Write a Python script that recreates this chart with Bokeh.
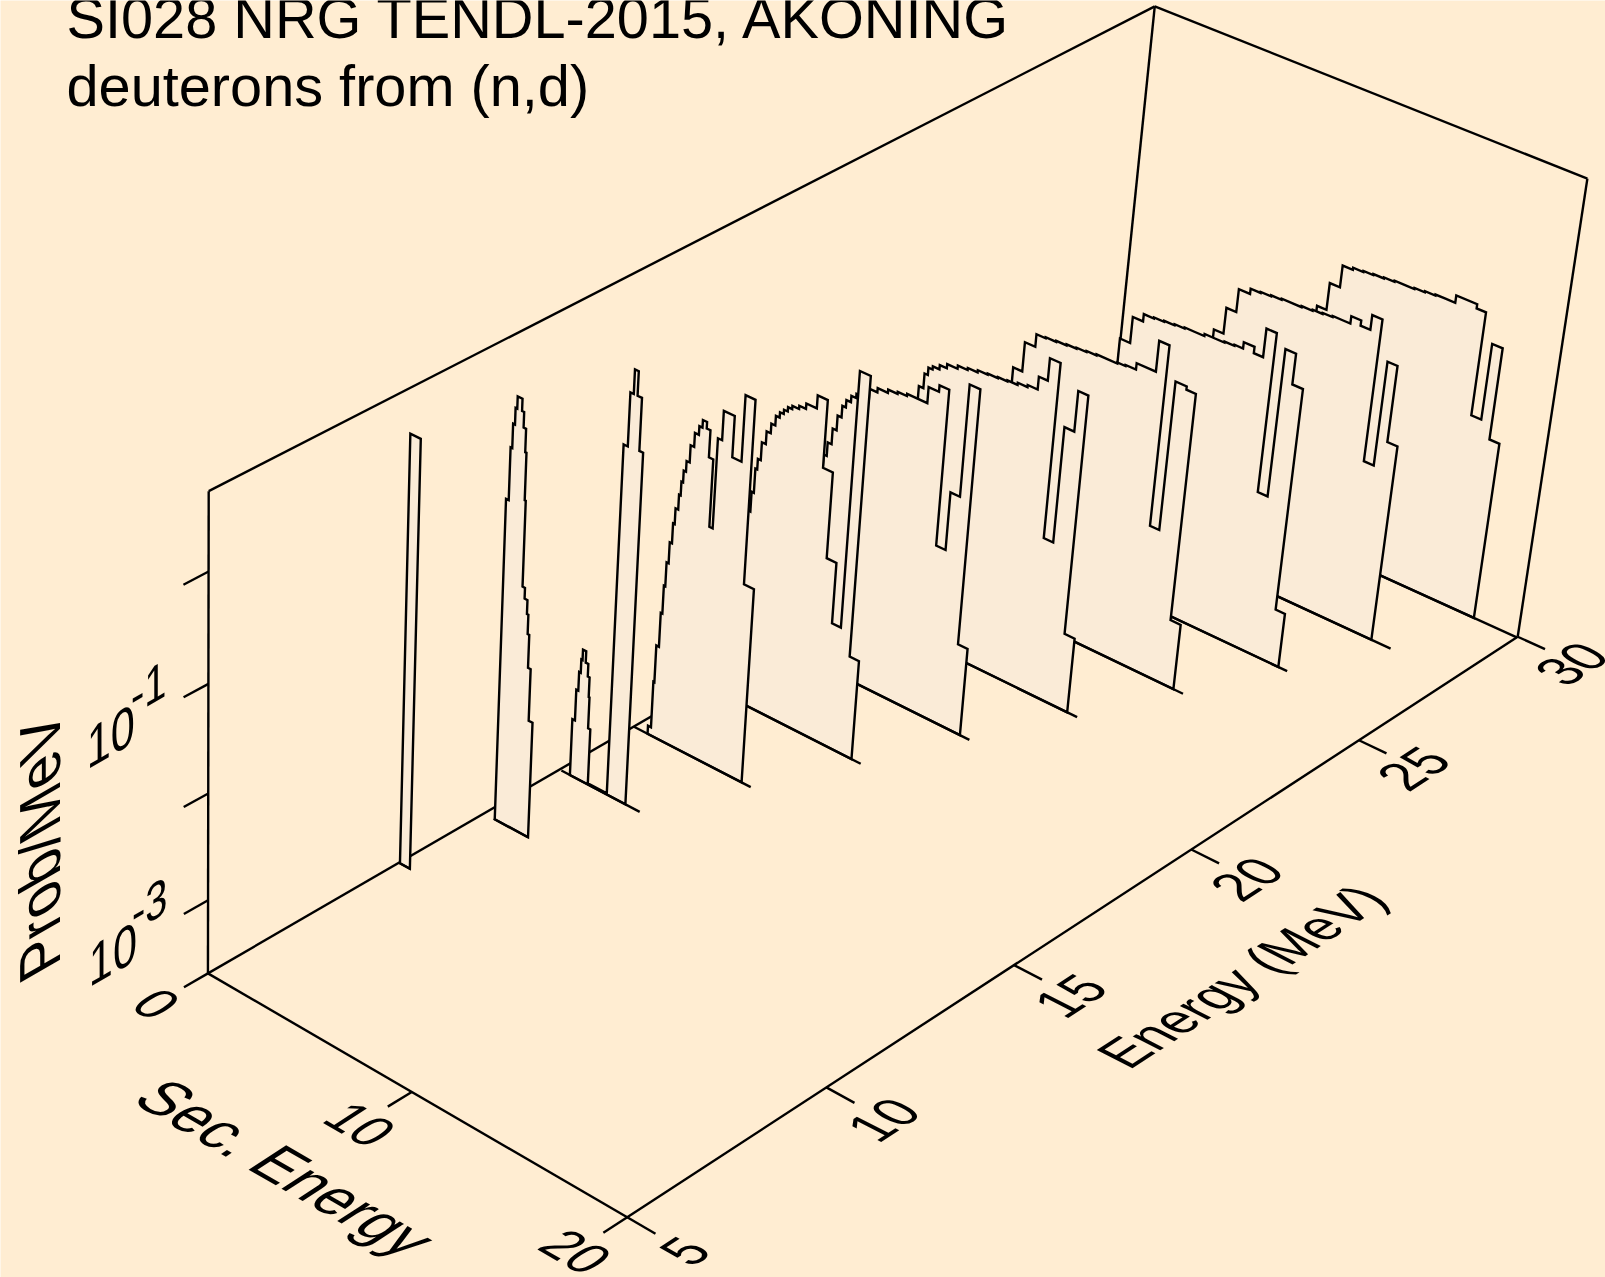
import numpy as np
from bokeh.plotting import figure, curdoc
from bokeh.models import Range1d, CustomJS
from bokeh.core.properties import value
from bokeh.embed import file_html
from bokeh.resources import INLINE

# viewing transform of the 3-D box: (E, Sec. E, log10 P, 1) -> page pixels
CAMERA = np.array([[45.84563, 20.82038, -2.60144, -14.67496],
                   [-19.7731, 9.613954, -125.0136, 687.6719],
                   [0.006221549, -0.002927374, -0.01339225, 1.0]])
E_MIN, E_MAX = 5, 30
S_MIN, S_MAX = 0, 20
Z_MIN, Z_MAX = -3.7, 0.7

E_TICKS = [5, 10, 15, 20, 25, 30]
S_TICKS = [0, 10, 20]
Z_TICKS = [-3, -2, -1, 0]
Z_LABELS = [-3, -1]

# incident energies, baseline extent, secondary-energy bin edges, log10(Prob/MeV) per bin
E10 = 9.76;  E10_base = [0.05, 0.58]
E10_s = [0.05, 0.55]
E10_z = [0.30]
E12 = 11.96; E12_base = [0.50, 2.22]
E12_s = [0.55,0.68,0.76,0.85,0.93,1.16,1.26,1.38,1.44,1.49,1.61,1.75,1.82,1.90,2.03,2.22]
E12_z = [-0.66,-0.18,0.04,0.19,0.30,0.19,0.05,-0.16,-0.59,-1.38,-1.48,-1.61,-1.79,-2.10,-2.59]
E14 = 13.97; E14_base = [0.09, 4.01]
E14_s = [0.52,0.65,0.75,0.83,0.89,1.05,1.18,1.27,1.31,1.42,2.37,2.57,2.73,2.91,3.12,3.30]
E14_z = [-3.15,-2.85,-2.67,-2.54,-2.44,-2.55,-2.67,-2.86,-3.16,-3.69,-0.38,0.11,0.33,0.11,-0.37]
E16 = 15.98; E16_base = [-0.01, 5.84]
E16_s = [0.70,0.85,0.90,1.03,1.11,1.18,1.28,1.39,1.47,1.60,1.68,1.76,1.87,2.02,2.19,2.38,2.53,2.73,2.91,3.12,3.28,3.48,4.00,4.44,4.91,5.39]
E16_z = [-3.62,-3.17,-2.81,-2.48,-2.21,-1.98,-1.78,-1.59,-1.44,-1.30,-1.17,-1.06,-0.96,-0.80,-0.67,-0.59,-0.52,-0.58,-0.83,-1.46,-0.62,-0.35,-0.73,-0.12,-1.83]
E18 = 17.97; E18_base = [0.0, 7.72]
E18_s = [1.50,1.66,1.77,1.86,2.00,2.19,2.39,2.58,2.76,2.94,3.12,3.32,3.64,3.96,4.46,4.94,5.41,5.88,6.31,6.82,7.27]
E18_z = [-1.84,-1.65,-1.42,-1.32,-1.15,-1.03,-0.94,-0.85,-0.80,-0.76,-0.72,-0.69,-0.66,-0.61,-0.49,-1.12,-1.93,-2.51,-0.10,-2.74]
E20 = 19.98; E20_base = [0.0, 9.57]
E20_s = [1.65,1.80,1.99,2.18,2.37,2.54,2.76,2.99,3.59,3.96,4.45,4.90,5.34,6.30,6.79,7.25,7.70,8.15,8.65,9.11]
E20_z = [-1.68,-1.55,-1.40,-1.26,-1.15,-1.08,-1.02,-0.98,-0.88,-0.84,-0.81,-0.79,-0.77,-0.62,-0.56,-2.03,-1.48,-0.43,-2.85]
E22 = 21.97; E22_base = [0.0, 11.47]
E22_s = [2.72,2.94,3.10,3.30,3.62,3.96,4.46,4.93,5.40,5.87,6.35,6.80,7.28,7.74,8.21,8.63,9.13,9.58,10.04,10.51,10.99]
E22_z = [-1.30,-1.16,-1.09,-1.06,-1.02,-0.98,-0.95,-0.93,-0.91,-0.90,-0.89,-0.88,-0.86,-0.84,-0.72,-0.51,-2.17,-1.07,-0.69,-2.97]
E24 = 23.98; E24_base = [0.0, 13.31]
E24_s = [3.96,4.40,4.90,5.34,5.84,6.33,6.80,7.27,7.74,8.17,8.72,9.10,9.59,10.49,10.97,11.41,11.93,12.37,12.85]
E24_z = [-1.38,-1.10,-0.98,-0.97,-0.96,-0.95,-0.94,-0.93,-0.92,-0.92,-0.91,-0.90,-0.84,-0.55,-2.27,-0.85,-0.88,-3.06]
E26 = 25.97; E26_base = [0.0, 15.16]
E26_s = [5.83,6.32,6.81,7.29,7.77,8.26,8.73,9.19,9.66,10.12,10.59,11.05,11.45,11.95,12.38,12.86,13.32,13.81,14.30,14.74]
E26_z = [-1.30,-1.05,-0.98,-0.97,-0.96,-0.95,-0.94,-0.94,-0.92,-0.92,-0.91,-0.90,-0.84,-0.90,-0.63,-2.15,-0.74,-1.03,-3.17]
E28 = 27.97; E28_base = [0.0, 17.02]
E28_s = [7.25,7.71,8.18,8.71,9.18,9.67,10.16,10.62,11.09,11.60,12.06,12.52,12.98,13.34,13.80,14.25,14.72,15.18,15.64,16.11]
E28_z = [-1.45,-1.20,-0.98,-0.93,-0.92,-0.91,-0.90,-0.90,-0.89,-0.88,-0.87,-0.86,-0.86,-0.79,-0.84,-0.70,-2.06,-1.06,-1.79]
E30 = 29.97; E30_base = [0.0, 20.0]
E30_s = [9.08,9.53,10.01,10.49,10.97,11.43,11.92,12.41,12.87,13.33,13.81,14.29,14.75,15.20,16.16,16.59,17.05,17.53,17.99]
E30_z = [-1.42,-1.16,-0.95,-0.93,-0.92,-0.91,-0.90,-0.89,-0.89,-0.88,-0.87,-0.86,-0.86,-0.79,-0.83,-1.82,-1.09,-1.97]

CURVES = [(E30,E30_base,E30_s,E30_z),(E28,E28_base,E28_s,E28_z),(E26,E26_base,E26_s,E26_z),
          (E24,E24_base,E24_s,E24_z),(E22,E22_base,E22_s,E22_z),(E20,E20_base,E20_s,E20_z),
          (E18,E18_base,E18_s,E18_z),(E16,E16_base,E16_s,E16_z),(E14,E14_base,E14_s,E14_z),
          (E12,E12_base,E12_s,E12_z),(E10,E10_base,E10_s,E10_z)]

BG = "#FFEDD2"
FILL = "#FAEBD7"
INK = "black"

def proj(E, S, Z):
    E, S, Z = np.broadcast_arrays(np.asarray(E, float), np.asarray(S, float), np.asarray(Z, float))
    w = CAMERA @ np.vstack([E.ravel(), S.ravel(), Z.ravel(), np.ones(E.size)])
    return (w[0]/w[2]).tolist(), (w[1]/w[2]).tolist()

p = figure(width=1605, height=1277, output_backend="svg", toolbar_location=None,
           x_range=Range1d(0, 1605), y_range=Range1d(1277, 0), min_border=0,
           styles={"position": "fixed", "left": "0", "top": "0"})
p.axis.visible = False
p.grid.visible = False
p.outline_line_color = None
p.background_fill_color = BG
p.border_fill_color = BG

def edge(a, b, w=2.4):
    x, y = proj([a[0], b[0]], [a[1], b[1]], [a[2], b[2]])
    p.line(x, y, line_color=INK, line_width=w, line_cap="butt")

# box
edge((E_MIN,S_MIN,Z_MIN),(E_MIN,S_MAX,Z_MIN))
edge((E_MIN,S_MAX,Z_MIN),(E_MAX,S_MAX,Z_MIN))
edge((E_MIN,S_MIN,Z_MIN),(E_MAX,S_MIN,Z_MIN))
edge((E_MIN,S_MIN,Z_MIN),(E_MIN,S_MIN,Z_MAX))
edge((E_MIN,S_MIN,Z_MAX),(E_MAX,S_MIN,Z_MAX))
edge((E_MAX,S_MIN,Z_MAX),(E_MAX,S_MAX,Z_MAX))
edge((E_MAX,S_MAX,Z_MAX),(E_MAX,S_MAX,Z_MIN))
edge((E_MAX,S_MIN,Z_MAX),(E_MAX,S_MIN,Z_MIN))

# ticks
for e in E_TICKS:
    edge((e,S_MAX,Z_MIN),(e,S_MAX+1.27,Z_MIN))
for s in S_TICKS:
    edge((E_MIN,s,Z_MIN),(E_MIN-0.58,s,Z_MIN))
for z in Z_TICKS:
    edge((E_MIN,S_MIN,z),(E_MIN-0.58,S_MIN,z))

# spectra, back to front
for E, base, s, z in CURVES:
    ps = [s[0]]
    pz = [Z_MIN]
    for i in range(len(z)):
        ps += [s[i], s[i+1]]
        pz += [z[i], z[i]]
    ps.append(s[-1]); pz.append(Z_MIN)
    x, y = proj(E, ps, pz)
    p.patch(x, y, fill_color=FILL, line_color=INK, line_width=2.4, line_join="miter")
    bx, by = proj(E, base, Z_MIN)
    p.line(bx, by, line_color=INK, line_width=2.4)

def label(x, y, t, size, deg, align="center", baseline="middle"):
    p.text(x=[x], y=[y], text=[t], angle=np.radians(deg), text_color=INK,
           text_font=value("Liberation Sans"), text_font_size=f"{size}px",
           text_align=align, text_baseline=baseline)

for e in E_TICKS:
    x, y = proj(e+0.2, S_MAX+2.6, Z_MIN)
    label(x[0], y[0], str(e), 50, 33)
for s in S_TICKS:
    x, y = proj(E_MIN-1.33, s, Z_MIN)
    label(x[0]-4, y[0]-6, str(s), 50, -30)
for z in Z_LABELS:
    x, y = proj(E_MIN-2.3, S_MIN, z-0.03)
    label(x[0]-7, y[0], "10", 50, 30)
    x2, y2 = proj(E_MIN-1.25, S_MIN, z-0.08)
    label(x2[0]-14, y2[0]-30, str(z), 46, 30)

label(1249.7, 970.6, "Energy (MeV)", 50.5, 33)
label(276.6, 1162, "Sec. Energy", 58, -30)
label(39, 835, "Prob/MeV", 58, 90)
label(66, 17, "SI028 NRG TENDL-2015, AKONING", 57.7, 0, align="left", baseline="alphabetic")
label(66, 85.5, "deuterons from (n,d)", 57.7, 0, align="left", baseline="alphabetic")

# the labels lie in the planes of the 3-D box: shear each along its baseline
SHEAR_JS = """
function apply(root){
  for (const el of root.querySelectorAll('*')) {
    if (el.shadowRoot) apply(el.shadowRoot);
    if (el.tagName.toLowerCase() !== 'text' || el.dataset.sheared) continue;
    const m = el.getCTM(); if (!m) continue;
    const a = Math.atan2(m.b, m.a) * 180 / Math.PI;
    let k = 0;
    if (a < -80) k = 30;                 // along the vertical axis
    else if (a < -31.5 && a > -40) k = 30;  // along the energy axis
    else if (a < -20 && a >= -31.5) k = -30; // in the back wall
    else if (a > 20) k = -27;            // along the secondary-energy axis
    if (k === 0) continue;
    const x = el.getAttribute('x') || 0, y = el.getAttribute('y') || 0;
    const t = el.getAttribute('transform') || '';
    el.setAttribute('transform', `${t} translate(${x} ${y}) skewX(${k}) translate(${-x} ${-y})`);
    el.dataset.sheared = '1';
  }
}
for (const ms of [0, 50, 200, 500, 1000, 2000]) setTimeout(() => apply(document), ms);
"""
doc = curdoc()
doc.add_root(p)
doc.js_on_event("document_ready", CustomJS(code=SHEAR_JS))
open("out.html", "w").write(file_html(p, INLINE))
